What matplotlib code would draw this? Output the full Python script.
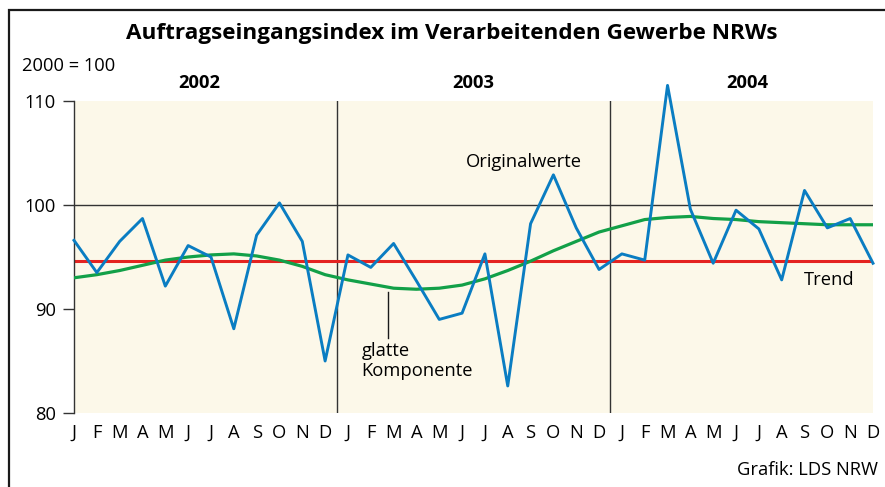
import matplotlib
matplotlib.use("Agg")
import matplotlib.pyplot as plt
from matplotlib.patches import Rectangle

plt.rcParams['font.family'] = ['Open Sans', 'DejaVu Sans']

months = ["J", "F", "M", "A", "M", "J", "J", "A", "S", "O", "N", "D"] * 3
years = ["2002", "2003", "2004"]

original = [96.6, 93.5, 96.5, 98.7, 92.2, 96.1, 95.0, 88.1, 97.1, 100.2, 96.5, 85.0,
            95.2, 94.0, 96.3, 92.7, 89.0, 89.6, 95.3, 82.6, 98.2, 102.9, 97.8, 93.8,
            95.3, 94.7, 111.5, 99.6, 94.4, 99.5, 97.7, 92.8, 101.4, 97.8, 98.7, 94.4]
glatte = [93.0, 93.3, 93.7, 94.2, 94.7, 95.0, 95.2, 95.3, 95.1, 94.7, 94.1, 93.3,
          92.8, 92.4, 92.0, 91.9, 92.0, 92.3, 92.9, 93.7, 94.6, 95.6, 96.5, 97.4,
          98.0, 98.6, 98.8, 98.9, 98.7, 98.6, 98.4, 98.3, 98.2, 98.1, 98.1, 98.1]
trend = 94.6

x = list(range(len(original)))

fig = plt.figure(figsize=(8.85, 4.87), dpi=100)
fig.patch.set_facecolor("white")

# outer frame
fig.add_artist(Rectangle((9 / 885, -0.02), 1.05, 1 - 9.5 / 487 + 0.02,
                         transform=fig.transFigure, fill=False,
                         edgecolor="#1a1a1a", linewidth=1.6))

ax = fig.add_axes([74 / 885, 1 - 413 / 487, (873 - 74) / 885, (413 - 101) / 487])
ax.set_facecolor("#FCF8E9")
ax.set_xlim(0, 35)
ax.set_ylim(80, 110)

# grid-like lines
ax.axhline(100, color="#333333", linewidth=1.0, zorder=1)
for sep in (11.5, 23.5):
    ax.axvline(sep, color="#333333", linewidth=1.0, zorder=1)

ax.axhline(trend, color="#E42320", linewidth=2.2, zorder=2)
ax.plot(x, glatte, color="#12A048", linewidth=2.3, zorder=3)
ax.plot(x, original, color="#0A7DC2", linewidth=2.1, zorder=4, clip_on=False)

for s in ("top", "right", "bottom"):
    ax.spines[s].set_visible(False)
ax.spines["left"].set_color("#333333")
ax.spines["left"].set_linewidth(1.0)

fs = 13.2
ax.set_yticks([80, 90, 100, 110])
ax.set_yticklabels(["80", "90", "100", "110"], fontsize=fs)
ax.tick_params(axis="y", length=8, width=1.0, color="#333333", pad=5)
ax.set_xticks(x)
ax.set_xticklabels(months, fontsize=fs)
ax.tick_params(axis="x", length=0, pad=8)

# year labels
for i, yr in enumerate(years):
    ax.text(5.5 + 12 * i, 111.7, yr, ha="center", va="center",
            fontsize=fs, fontweight="bold")

# annotations
ax.text(19.7, 104.1, "Originalwerte", ha="center", va="center", fontsize=fs)
ax.text(33.1, 92.8, "Trend", ha="center", va="center", fontsize=fs)
ax.text(12.6, 85.0, "glatte\nKomponente", ha="left", va="center",
        fontsize=fs, linespacing=1.1)
ax.plot([13.75, 13.75], [87.2, 91.6], color="#1a1a1a", linewidth=1.0)

fig.text(452 / 885, 1 - 33 / 487, "Auftragseingangsindex im Verarbeitenden Gewerbe NRWs",
         ha="center", va="center", fontsize=16.2, fontweight="bold")
fig.text(22 / 885, 1 - 66 / 487, "2000 = 100", ha="left", va="center", fontsize=fs)
fig.text(878 / 885, 1 - 470 / 487, "Grafik: LDS NRW", ha="right", va="center", fontsize=fs)

fig.savefig("out.png", dpi=100)
